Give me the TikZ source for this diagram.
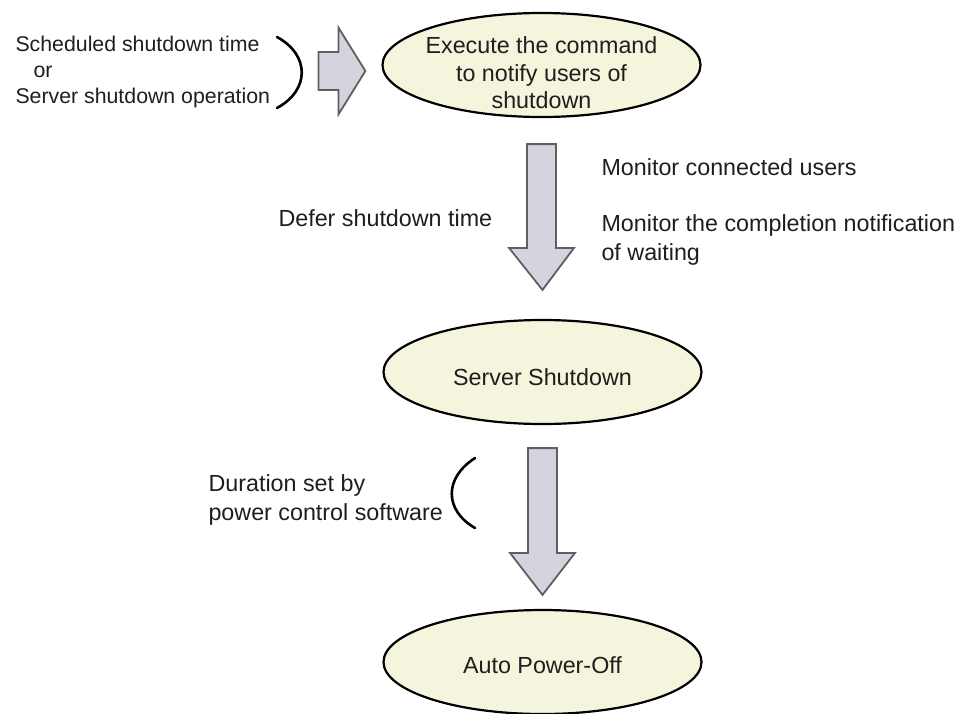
\documentclass[tikz,border=0pt]{standalone}
\usepackage{fontspec}
\setmainfont{Liberation Sans}
\usetikzlibrary{calc,shapes.geometric}

\definecolor{stagefill}{RGB}{245,245,221}
\definecolor{arrowfill}{RGB}{214,210,222}
\definecolor{arrowline}{RGB}{95,95,95}
\definecolor{labeltext}{RGB}{30,30,30}

\tikzset{
  stage/.style={ellipse, draw=black, line width=2.2pt, fill=stagefill,
    minimum width=318pt, minimum height=104pt, inner sep=0pt},
  stagetext/.style={align=center, text=labeltext, font=\fontsize{23.3}{27.5}\selectfont},
  note/.style={anchor=base west, align=left, text=labeltext, font=\fontsize{23.3}{29}\selectfont},
  fatarrow/.style={draw=arrowline, line width=1.8pt, fill=arrowfill, line join=miter},
  brace/.style={line width=2.6pt, line cap=round},
}

% block arrows: shaft start, tip
\newcommand{\fatdown}[2]{%
  \draw[fatarrow] let \p1=(#1), \p2=(#2) in
    (\x1-14.5,\y1) -- (\x1+14.5,\y1) -- (\x1+14.5,\y2+42) -- (\x1+32.5,\y2+42)
    -- (\x2,\y2) -- (\x1-32.5,\y2+42) -- (\x1-14.5,\y2+42) -- cycle;}
\newcommand{\fatright}[2]{%
  \draw[fatarrow] let \p1=(#1), \p2=(#2) in
    (\x1,\y1+19) -- (\x2-27,\y1+19) -- (\x2-27,\y1+43.5) -- (\x2,\y2)
    -- (\x2-27,\y1-43.5) -- (\x2-27,\y1-19) -- (\x1,\y1-19) -- cycle;}

\begin{document}
\begin{tikzpicture}[x=1pt,y=-1pt]
  \useasboundingbox (0,0) rectangle (957,713);

  % the three stages
  \node[stage] (notify) at (541.5,65) {};
  \node[stagetext] (notifytext) at (541.5,73) {Execute the command\\to notify users of\\shutdown};
  \node[stage] (shutdown) at (542.5,372) {};
  \node[stagetext] (shutdowntext) at (542.5,377) {Server Shutdown};
  \node[stage] (poweroff) at (542.5,662) {};
  \node[stagetext] (powerofftext) at (542.5,665) {Auto Power-Off};

  % what starts it (base = last line)
  \node[note, font=\fontsize{21.3}{26}\selectfont] (trigger) at (12,103)
    {Scheduled shutdown time\\\hspace*{18pt}or\\Server shutdown operation};
  \draw[brace] (277,37) .. controls (310,55) and (310,90) .. (277,108);
  \coordinate (intip) at ($(notify.west)+(-16,6)$);
  \coordinate (in) at ($(intip)+(-47,0)$);
  \fatright{in}{intip}

  % notify -> shutdown
  \coordinate (down1) at ($(notify.south)+(0,26)$);
  \coordinate (down1tip) at ($(shutdown.north)+(0,-29)$);
  \fatdown{down1}{down1tip}
  \node[note] (monitor) at (598,175) {Monitor connected users};
  \node[note] (waiting) at (598,260) {Monitor the completion notification\\of waiting};
  \node[note] (defer) at (275,226) {Defer shutdown time};

  % shutdown -> power off
  \coordinate (down2) at ($(shutdown.south)+(0,23)$);
  \coordinate (down2tip) at ($(poweroff.north)+(0,-14)$);
  \fatdown{down2}{down2tip}
  \draw[brace] (475,458) .. controls (444,478) and (444,510) .. (475,528);
  \node[note] (duration) at (205,520) {Duration set by\\power control software};
\end{tikzpicture}
\end{document}
